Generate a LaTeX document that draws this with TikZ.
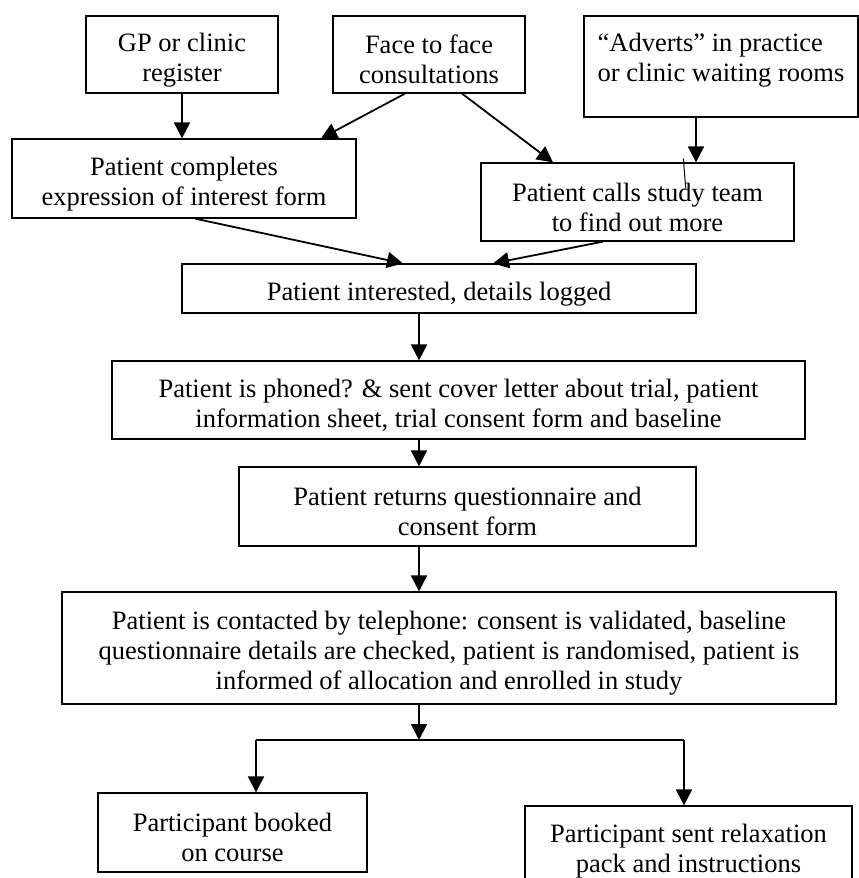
\documentclass[tikz,border=0pt]{standalone}
\usepackage{fontspec}
\setmainfont{Liberation Serif}
\usepackage{tikz}
\usetikzlibrary{arrows.meta,positioning,backgrounds}
\pgfdeclarelayer{nodelayer}
\pgfdeclarelayer{edgelayer}
\pgfsetlayers{edgelayer,nodelayer,main}
\newcommand{\topgap}{\rule{0pt}{29pt}}

\begin{document}
\begin{tikzpicture}[x=1pt, y=-1pt,
    box/.style={draw, line width=1.2pt, align=center, inner sep=3pt,
                font=\fontsize{26.5}{30}\selectfont},
    arr/.style={line width=1.8pt, -{Triangle[length=16pt,width=16pt]}},
    ]
    \useasboundingbox (0, 0) rectangle (859, 878);
    \clip (0, 0) rectangle (859, 878);
    \begin{pgfonlayer}{nodelayer}
            \node [box, minimum width=192, minimum height=77] (0) at (182, 54.5) {\topgap GP or clinic\\register};
            \node [box, minimum width=192, minimum height=77] (1) at (429, 54.5) {\topgap Face to face\\consultations};
            \node [box, minimum width=274, minimum height=101, align=left] (2) at (721, 66.5) {\topgap “Adverts” in practice\\or clinic waiting rooms\\ \mbox{}};
            \node [box, minimum width=344, minimum height=79] (3) at (184, 178.5) {\topgap Patient completes\\expression of interest form};
            \node [box, minimum width=313, minimum height=78] (4) at (637.5, 202) {\topgap Patient calls study team\\to find out more};
            \node [box, minimum width=514, minimum height=49] (5) at (439, 288.5) {\topgap Patient interested, details logged};
            \node [box, minimum width=693, minimum height=78] (6) at (458.5, 400) {\topgap Patient is phoned? \& sent cover letter about trial, patient\\information sheet, trial consent form and baseline};
            \node [box, minimum width=457, minimum height=79] (7) at (467.5, 506.5) {\topgap Patient returns questionnaire and\\consent form};
            \node [box, minimum width=774, minimum height=112] (8) at (449, 648) {\topgap Patient is contacted by telephone: consent is validated, baseline\\questionnaire details are checked, patient is randomised, patient is\\informed of allocation and enrolled in study};
            \node [box, minimum width=269, minimum height=79] (9) at (232.5, 832.5) {\topgap Participant booked\\on course};
            \node [box, minimum width=327, minimum height=79] (10) at (688.5, 845.5) {\topgap Participant sent relaxation\\pack and instructions};
    \end{pgfonlayer}
        \coordinate (j) at (419, 740);
        \coordinate (j0) at (256, 740);
        \coordinate (j1) at (684, 740);
        \coordinate (s0) at (683.3, 158.3);
        \coordinate (s1) at (685.7, 188.3);
    \begin{pgfonlayer}{edgelayer}
            \draw [arr] (0.south) -- (0.south |- 3.north);
            \draw [arr] ([xshift=-24pt]1.south) -- ([xshift=137pt]3.north);
            \draw [arr] ([xshift=33pt]1.south) -- ([xshift=-84.5pt]4.north);
            \draw [arr] ([xshift=-25pt]2.south) -- ([xshift=58.5pt]4.north);
            \draw [line width=1pt] (s0) -- (s1);
            \draw [arr] ([xshift=11pt]3.south) -- ([xshift=-36pt]5.north);
            \draw [arr] ([xshift=-34.5pt]4.south) -- ([xshift=54pt]5.north);
            \draw [arr] (5.south -| j) -- (6.north -| j);
            \draw [arr] (6.south -| j) -- (7.north -| j);
            \draw [arr] (7.south -| j) -- (8.north -| j);
            \draw [arr] (8.south -| j) -- (j);
            \draw [line width=1.8pt] (j0) -- (j1);
            \draw [arr] (j0) -- (j0 |- 9.north);
            \draw [arr] (j1) -- (j1 |- 10.north);
    \end{pgfonlayer}
\end{tikzpicture}
\end{document}
